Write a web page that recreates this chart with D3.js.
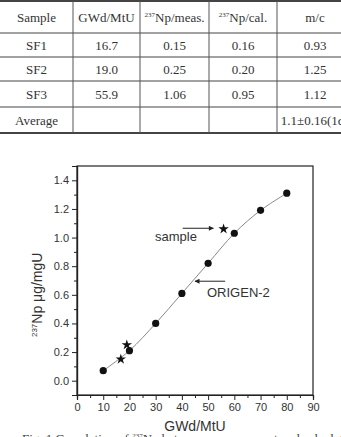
<!DOCTYPE html>
<html>
<head>
<meta charset="utf-8">
<script src="https://d3js.org/d3.v7.min.js"></script>
<style>
  body { margin: 0; background: #fff; }
  svg { display: block; }
  .tbl text { font-family: "Liberation Serif", "Times New Roman", serif; font-size: 13px; fill: #333; }
  .axis text { font-family: "Liberation Sans", Arial, sans-serif; font-size: 11px; fill: #333; }
  .axis path, .axis line { stroke: #222; }
  .lbl { font-family: "Liberation Sans", Arial, sans-serif; fill: #333; }
</style>
</head>
<body>
<svg id="fig" width="341" height="437"></svg>
<script>
// table data
const headers = ["Sample", "GWd/MtU", "Np/meas.", "Np/cal.", "m/c"];
const headerSup = ["", "", "237", "237", ""];
const samples = ["SF1", "SF2", "SF3"];
const burnup = ["16.7", "19.0", "55.9"];
const npMeas = ["0.15", "0.25", "1.06"];
const npCal = ["0.16", "0.20", "0.95"];
const ratio = ["0.93", "1.25", "1.12"];
const averageRow = ["Average", "", "", "", "1.1±0.16(1σ)"];

// chart data
const origenBurnup = [10, 20, 30, 40, 50, 60, 70, 80];
const origenNp = [0.07, 0.21, 0.40, 0.61, 0.82, 1.03, 1.19, 1.31];
const sampleBurnup = [16.7, 19.0, 55.9];
const sampleNp = [0.15, 0.25, 1.06];
const xTicks = [0, 10, 20, 30, 40, 50, 60, 70, 80, 90];
const yTicks = [0, 0.2, 0.4, 0.6, 0.8, 1.0, 1.2, 1.4];

const svg = d3.select("#fig");

// ---- table ----
const tbl = svg.append("g").attr("class", "tbl");
const colEdges = [0, 73, 140, 209, 277, 353];
const rowEdges = [1, 33, 57, 81, 107, 133];
const rows = [headers].concat(samples.map((s, i) => [s, burnup[i], npMeas[i], npCal[i], ratio[i]]), [averageRow]);

rowEdges.forEach((y, i) => {
  tbl.append("line")
    .attr("x1", 0).attr("x2", 341).attr("y1", y).attr("y2", y)
    .attr("stroke", "#444")
    .attr("stroke-width", (i === 0 || i === rowEdges.length - 1) ? 1.8 : 1);
});
colEdges.slice(1, 5).forEach(x => {
  tbl.append("line")
    .attr("x1", x).attr("x2", x).attr("y1", rowEdges[0]).attr("y2", rowEdges[5])
    .attr("stroke", "#555").attr("stroke-width", 1);
});

rows.forEach((r, ri) => {
  const cy = (rowEdges[ri] + rowEdges[ri + 1]) / 2;
  r.forEach((txt, ci) => {
    if (!txt) return;
    let cx = (colEdges[ci] + colEdges[ci + 1]) / 2;
    if (ci === 4) cx = 315;
    const t = tbl.append("text")
      .attr("x", cx).attr("y", cy + 4.5)
      .attr("text-anchor", "middle");
    if (ri === 0 && headerSup[ci]) {
      t.append("tspan").attr("font-size", "7px").attr("dy", -5).text(headerSup[ci]);
      t.append("tspan").attr("dy", 5).text(txt);
    } else {
      t.text(txt);
    }
  });
});

// ---- chart ----
const x = d3.scaleLinear().domain([0, 90]).range([77, 313]);
const y = d3.scaleLinear().domain([-0.1, 1.5]).range([395, 166]);

// frame
svg.append("rect")
  .attr("x", x(0)).attr("y", y(1.5))
  .attr("width", x(90) - x(0)).attr("height", y(-0.1) - y(1.5))
  .attr("fill", "none").attr("stroke", "#222").attr("stroke-width", 1.2);

const xAxis = svg.append("g").attr("class", "axis")
  .attr("transform", `translate(0,${y(-0.1)})`)
  .call(d3.axisBottom(x).tickValues(xTicks).tickSize(5).tickPadding(3).tickFormat(d3.format("d")));
svg.append("g").attr("class", "axis")
  .attr("transform", `translate(0,${y(-0.1)})`)
  .call(d3.axisBottom(x).tickValues(d3.range(5, 90, 10)).tickSize(3).tickFormat(""));

const yAxis = svg.append("g").attr("class", "axis")
  .attr("transform", `translate(${x(0)},0)`)
  .call(d3.axisLeft(y).tickValues(yTicks).tickSize(5).tickPadding(3).tickFormat(d3.format(".1f")));
svg.append("g").attr("class", "axis")
  .attr("transform", `translate(${x(0)},0)`)
  .call(d3.axisLeft(y).tickValues([-0.1, 0.1, 0.3, 0.5, 0.7, 0.9, 1.1, 1.3]).tickSize(3).tickFormat(""));
svg.selectAll(".axis path.domain").attr("stroke-width", 1.2);

// ORIGEN-2 curve
const pts = origenBurnup.map((b, i) => [x(b), y(origenNp[i])]);
svg.append("path")
  .attr("d", d3.line().curve(d3.curveCatmullRom)(pts))
  .attr("fill", "none").attr("stroke", "#888").attr("stroke-width", 1);

svg.selectAll("circle.origen").data(pts).join("circle")
  .attr("class", "origen")
  .attr("cx", d => d[0]).attr("cy", d => d[1]).attr("r", 3.6)
  .attr("fill", "#111");

svg.selectAll("path.star").data(sampleBurnup).join("path")
  .attr("class", "star")
  .attr("transform", (d, i) => `translate(${x(d)},${y(sampleNp[i])})`)
  .attr("d", d3.symbol(d3.symbolStar, 34))
  .attr("fill", "#111");

// annotations
const defs = svg.append("defs");
defs.append("marker").attr("id", "arr")
  .attr("viewBox", "0 0 10 10").attr("refX", 9).attr("refY", 5)
  .attr("markerWidth", 7).attr("markerHeight", 5).attr("orient", "auto")
  .append("path").attr("d", "M0,0L10,5L0,10Z").attr("fill", "#222");

svg.append("text").attr("class", "lbl").attr("font-size", "13px")
  .attr("x", 155).attr("y", 241).text("sample");
svg.append("line")
  .attr("x1", x(40.3)).attr("x2", x(52)).attr("y1", y(1.065)).attr("y2", y(1.065))
  .attr("stroke", "#222").attr("stroke-width", 1).attr("marker-end", "url(#arr)");

svg.append("text").attr("class", "lbl").attr("font-size", "13px")
  .attr("x", 207).attr("y", 297).text("ORIGEN-2");
svg.append("line")
  .attr("x1", x(56.5)).attr("x2", x(45)).attr("y1", y(0.695)).attr("y2", y(0.695))
  .attr("stroke", "#222").attr("stroke-width", 1).attr("marker-end", "url(#arr)");

// axis titles
svg.append("text").attr("class", "lbl").attr("font-size", "14px")
  .attr("x", (x(0) + x(90)) / 2).attr("y", 431).attr("text-anchor", "middle")
  .text("GWd/MtU");

const yt = svg.append("text").attr("class", "lbl").attr("font-size", "14px")
  .attr("transform", `translate(42,${y(0.6)}) rotate(-90)`)
  .attr("text-anchor", "middle");
yt.append("tspan").attr("font-size", "8px").attr("dy", -5).text("237");
yt.append("tspan").attr("dy", 5).text("Np μg/mgU");

// caption (cut at the bottom edge)
const cap = svg.append("text")
  .attr("x", 22).attr("y", 443)
  .attr("font-family", "Liberation Serif, serif").attr("font-size", "13px").attr("fill", "#444");
cap.append("tspan").text("Fig. 1  Correlation of ");
cap.append("tspan").attr("font-size", "7px").attr("dy", -5).text("237");
cap.append("tspan").attr("dy", 5).text("Np between measurement and calculation");
</script>
</body>
</html>
